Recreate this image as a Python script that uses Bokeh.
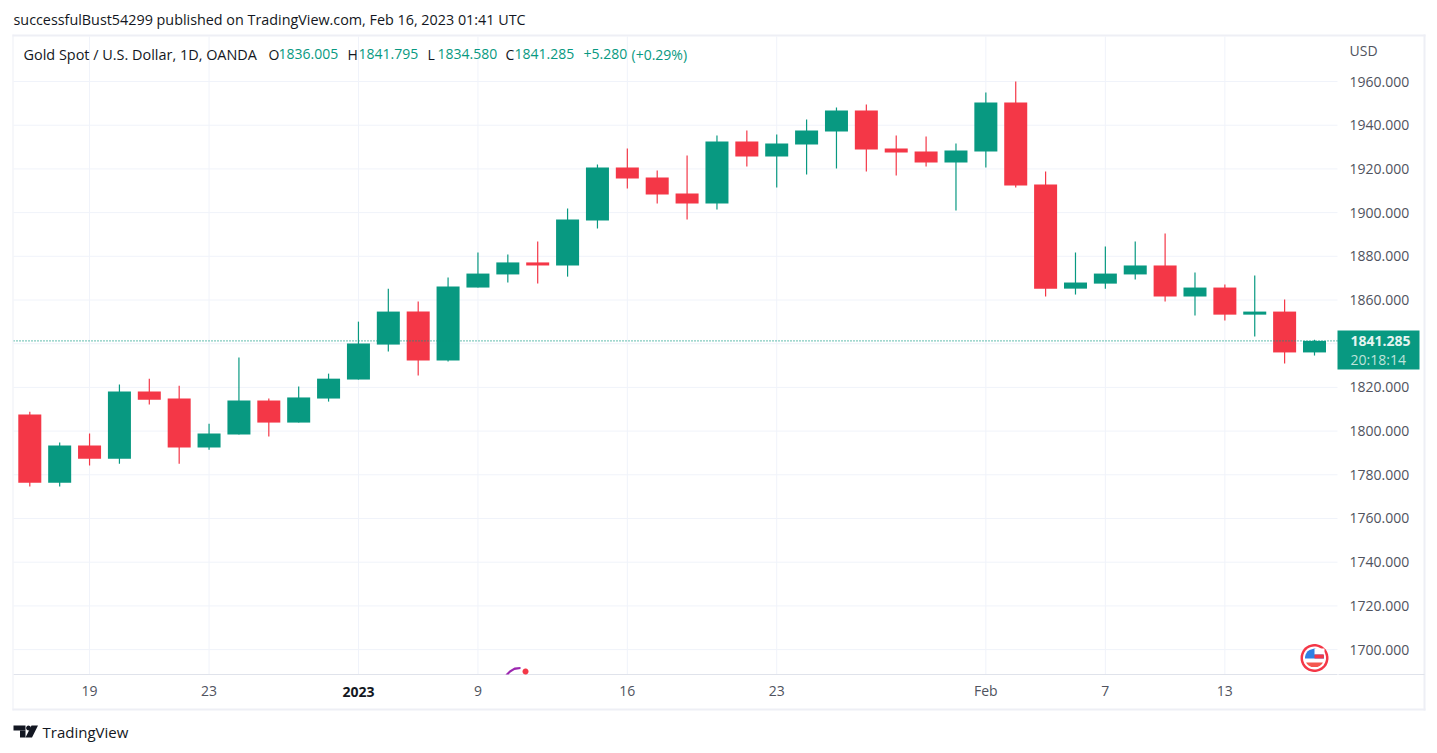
from bokeh.plotting import figure
from bokeh.models import (ColumnDataSource, FixedTicker, Label, PolyAnnotation, PrintfTickFormatter)
from bokeh.embed import file_html
from bokeh.resources import INLINE
import numpy as np

# ---- data ----
opens  = [1807.6,1776.4,1793.4,1787.4,1818.1,1814.9,1792.5,1798.4,1814.0,1803.9,1814.9,
          1823.6,1839.6,1854.7,1832.3,1865.7,1871.7,1877.2,1875.8,1896.4,1920.6,1916.1,
          1908.7,1904.2,1932.5,1925.7,1931.2,1937.1,1946.7,1929.3,1928.0,1922.9,1928.0,
          1950.4,1912.9,1865.2,1867.5,1871.7,1875.8,1861.6,1865.7,1853.3,1854.7,1836.005]
highs  = [1808.9,1794.8,1798.9,1821.3,1824.0,1820.8,1803.4,1833.7,1814.9,1820.4,1826.3,
          1850.1,1865.2,1859.3,1870.3,1881.7,1880.8,1886.8,1901.9,1922.0,1929.3,1919.3,
          1926.1,1935.3,1937.6,1935.7,1942.6,1948.1,1949.5,1935.3,1934.8,1931.6,1955.0,
          1960.0,1918.8,1881.7,1884.5,1886.8,1890.4,1872.6,1867.1,1871.2,1860.2,1841.795]
lows   = [1774.6,1774.6,1784.2,1785.1,1812.2,1785.1,1791.5,1798.4,1797.5,1803.9,1813.5,
          1823.6,1836.4,1825.4,1831.8,1865.7,1868.0,1867.5,1870.7,1892.7,1911.0,1904.2,
          1896.8,1901.4,1921.1,1911.5,1917.4,1920.2,1918.8,1917.0,1921.1,1901.0,1920.6,
          1911.5,1861.6,1862.5,1865.2,1869.4,1859.3,1852.9,1850.6,1843.3,1830.9,1834.580]
closes = [1776.4,1793.4,1787.4,1818.1,1814.4,1792.5,1798.9,1814.0,1803.9,1815.4,1824.0,
          1840.1,1854.7,1832.3,1866.2,1872.1,1877.2,1875.8,1896.8,1920.6,1915.6,1908.3,
          1904.2,1932.5,1925.7,1931.6,1937.6,1946.7,1928.9,1927.5,1922.9,1928.4,1950.4,
          1912.4,1865.2,1868.0,1872.1,1875.8,1861.6,1865.7,1853.3,1854.7,1836.0,1841.285]
price_ticks = [1700,1720,1740,1760,1780,1800,1820,1840,1860,1880,1900,1920,1940,1960]
time_ticks = [2,6,11,15,20,25,32,36,40]
time_labels = ["19","23","","9","16","23","Feb","7","13"]
last_price = 1841.285

GREEN, RED = "#089981", "#F43747"
GRID, BORDER = "#f0f3fa", "#e0e3eb"
FONT = "Open Sans"
TXT, AXTXT = "#131722", "#50535e"

x = list(range(len(opens)))
col = [GREEN if c >= o else RED for o, c in zip(opens, closes)]
src = ColumnDataSource(dict(x=x, o=opens, h=highs, l=lows, c=closes, col=col,
                            top=[max(a, b) for a, b in zip(opens, closes)],
                            bot=[min(a, b) for a, b in zip(opens, closes)]))

W, H = 1430, 745
PL, PR, PT, PB = 13, 1337, 36, 674          # price pane in page pixels
X_L, X_R = -0.5455, 43.77                   # index at pane edges
Y_B, Y_T = 1688.6, 1980.6                   # price at pane edges
kx = (X_R - X_L) / (PR - PL)
ky = (Y_T - Y_B) / (PB - PT)

p = figure(width=W, height=H, output_backend="svg", toolbar_location=None,
           x_range=(X_L - PL*kx, X_R + (W-PR)*kx),
           y_range=(Y_B - (H-PB)*ky, Y_T + PT*ky),
           y_axis_location="right", min_border=0, min_border_left=0, min_border_right=0,
           min_border_top=0, min_border_bottom=0)
p.background_fill_color = "white"
p.border_fill_color = "white"
p.outline_line_color = None
p.grid.visible = False

# grid limited to the pane
p.segment([t for t in time_ticks], [Y_B]*len(time_ticks), time_ticks, [Y_T]*len(time_ticks),
          color=GRID, line_width=1, level="underlay")
p.segment([X_L]*len(price_ticks), price_ticks, [X_R]*len(price_ticks), price_ticks,
          color=GRID, line_width=1, level="underlay")

p.segment("x", "h", "x", "l", source=src, color="col", line_width=1.2)
p.vbar("x", 0.77, "top", "bot", source=src, fill_color="col", line_color="col", line_width=0)
p.line([X_L, X_R], [last_price, last_price], line_color=GREEN, line_dash="1 2", line_width=1.4)

ya = p.yaxis[0]
ya.fixed_location = X_R
ya.ticker = FixedTicker(ticks=price_ticks)
ya.formatter = PrintfTickFormatter(format="%.3f")
ya.axis_line_color = None
ya.major_tick_line_color = None
ya.minor_tick_line_color = None
ya.major_label_standoff = 6
ya.major_label_text_font = FONT
ya.major_label_text_font_size = "14px"
ya.major_label_text_color = AXTXT

xa = p.xaxis[0]
xa.fixed_location = Y_B
xa.bounds = (X_L, X_R)
xa.ticker = FixedTicker(ticks=time_ticks)
xa.major_label_overrides = dict(zip(time_ticks, time_labels))
xa.axis_line_color = BORDER
xa.major_tick_line_color = None
xa.minor_tick_line_color = None
xa.major_label_standoff = 0
xa.major_label_text_font = FONT
xa.major_label_text_font_size = "14px"
xa.major_label_text_color = AXTXT

# page-pixel helpers
def sx(X): return X
def sy(Y): return H - Y

def label(X, Y, text, color=TXT, size="14px", style="normal", align="left"):
    p.add_layout(Label(x=sx(X), y=sy(Y), x_units="screen", y_units="screen", text=text,
                       text_color=color, text_font=FONT, text_font_size=size,
                       text_font_style=style, text_align=align, text_baseline="middle"))

def poly(xs, ys, color):
    p.add_layout(PolyAnnotation(xs=[sx(v) for v in xs], ys=[sy(v) for v in ys],
                                xs_units="screen", ys_units="screen", fill_color=color,
                                fill_alpha=1, line_color=None, editable=False))

def rect(x0, y0, x1, y1, color):
    poly([x0, x1, x1, x0], [y0, y0, y1, y1], color)

def circle(cx, cy, r, color):
    t = np.linspace(0, 2*np.pi, 48)
    poly(list(cx+r*np.cos(t)), list(cy+r*np.sin(t)), color)

def band(cx, cy, r, y0, y1, color, xmin=None):
    ys_ = np.linspace(y0, y1, 8)
    right = cx + np.sqrt(np.maximum(r*r-(ys_-cy)**2, 0))
    left = cx - np.sqrt(np.maximum(r*r-(ys_-cy)**2, 0))
    if xmin is not None:
        left = np.maximum(left, xmin)
    poly(list(right)+list(left[::-1]), list(ys_)+list(ys_[::-1]), color)

# outer border
for a in [(12, 34, 1425, 36), (12, 708, 1425, 710), (12, 34, 13, 710), (1423, 34, 1425, 710)]:
    rect(*a, "#eeeff5")
rect(1338, 673.5, 1424, 674.5, BORDER)

# header
label(13, 19, "successfulBust54299 published on TradingView.com, Feb 16, 2023 01:41 UTC", size="14.35px")
label(23, 53.5, "Gold Spot / U.S. Dollar, 1D, OANDA", size="14.45px")
for X, t, c in [(268, "O", TXT), (278, "1836.005", GREEN), (347, "H", TXT), (358, "1841.795", GREEN),
                (427, "L", TXT), (437, "1834.580", GREEN), (505, "C", TXT), (514, "1841.285", GREEN),
                (583, "+5.280", GREEN), (631, "(+0.29%)", GREEN)]:
    label(X, 53.5, t, c)
label(1349, 50, "USD", AXTXT)
label(358, 691, "2023", TXT, style="bold", align="center")

# last price tag
rect(1337, 330, 1419, 369, GREEN)
label(1350, 340, "1841.285", "#e6f4f1", style="bold")
label(1350, 359, "20:18:14", "#bfe3db")

# US economic event marker
cx, cy = 1314, 657.5
circle(cx, cy, 14, RED)
circle(cx, cy, 11.5, "white")
band(cx, cy, 9.5, 648, 651, "#f4a0a6", xmin=cx)
band(cx, cy, 9.5, 654, 657.5, RED, xmin=cx)
band(cx, cy, 9.5, 662, 666.5, "#f4584f")
band(cx, cy, 9.5, 648, 658, "#2f80e4")
rect(cx, 648, cx+10, 654, "white")
rect(cx, 654, cx+9.3, 658, RED)

# arc marker cut off by the time axis
poly([505, 509, 514, 520, 520, 514, 510, 508], [674, 670, 667, 666.5, 668.5, 669.5, 672, 674], "#9c27b0")
circle(525, 671, 3, RED)

# logo
rect(13, 725, 25, 730, TXT)
rect(19.5, 730, 25, 737, TXT)
circle(28, 727.5, 2.4, TXT)
poly([31, 37.5, 31.5, 25], [725, 725, 737, 737], TXT)
label(42, 731.5, "TradingView", TXT, size="15px")

open("out.html", "w").write(file_html(p, INLINE))
